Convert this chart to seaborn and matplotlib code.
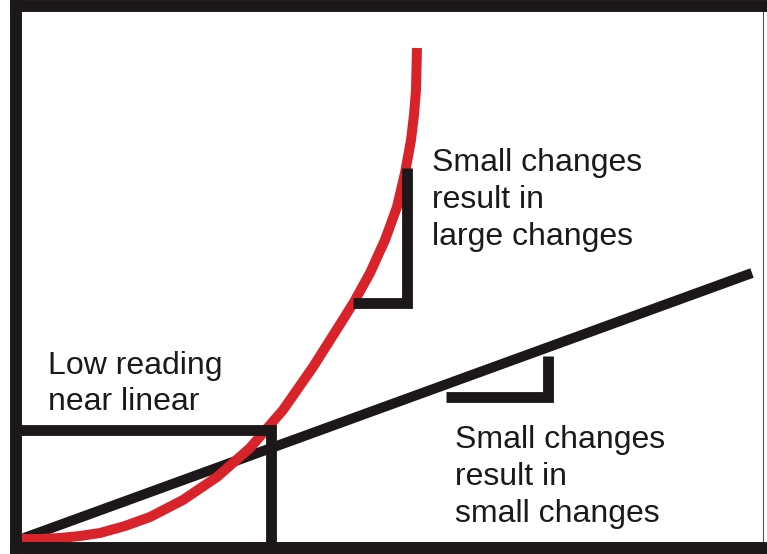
import numpy as np
import pandas as pd
import seaborn as sns
import matplotlib.pyplot as plt

# curve (reading vs output, arbitrary units)
red_x = [6, 24, 44, 64, 84, 109, 134, 167, 201, 234, 267, 297, 328, 338, 354,
         369, 381, 389, 395, 398, 400, 401]
red_y = [9, 9, 10, 12, 15, 22, 31, 48, 71, 100, 138, 181, 230, 246, 275,
         308, 341, 375, 408, 433, 458, 500]

# near-linear response
lin_x = [8, 736]
lin_y = [10, 275]

# slope markers and the "low reading" box
large_step_x = [337, 391, 391]
large_step_y = [245, 245, 380]
small_step_x = [430, 532, 532]
small_step_y = [151, 151, 192]
box_x = [0, 255, 255]
box_y = [118, 118, 0]

labels = {
    'low': 'Low reading\nnear linear',
    'large': 'Small changes\nresult in\nlarge changes',
    'small': 'Small changes\nresult in\nsmall changes',
}

sns.set_theme(style='white')
plt.rcParams['font.family'] = ['Liberation Sans', 'DejaVu Sans']

ink = '#1c1819'
red = '#d9232a'

fig = plt.figure(figsize=(7.67, 5.54), dpi=100)
ax = fig.add_axes([16 / 767, 6 / 554, 747 / 767, 542 / 554])
ax.set_xlim(0, 747)
ax.set_ylim(0, 542)
ax.set_xticks([])
ax.set_yticks([])

# frame
for side in ['left', 'top', 'bottom']:
    ax.spines[side].set_linewidth(8.6)
    ax.spines[side].set_color(ink)
    ax.spines[side].set_capstyle('projecting')
ax.spines['right'].set_linewidth(0.8)
ax.spines['right'].set_color('#555555')

df_red = pd.DataFrame({'x': red_x, 'y': red_y})
df_lin = pd.DataFrame({'x': lin_x, 'y': lin_y})

sns.lineplot(data=df_lin, x='x', y='y', sort=False, color=ink, lw=7.2,
             ax=ax, solid_capstyle='butt')
sns.lineplot(data=df_red, x='x', y='y', sort=False, color=red, lw=7.2,
             ax=ax, solid_capstyle='butt', solid_joinstyle='round')

for xs, ys in [(large_step_x, large_step_y), (small_step_x, small_step_y), (box_x, box_y)]:
    ax.plot(xs, ys, color=ink, lw=7.8, solid_joinstyle='miter', solid_capstyle='butt')

ax.set_xlabel('')
ax.set_ylabel('')

txt = dict(fontsize=23, color='#1a1a1a', ha='left', va='center', linespacing=1.3)
ax.text(32, 164, labels['low'], **txt)
ax.text(416, 348, labels['large'], **txt)
ax.text(439, 71, labels['small'], **txt)

fig.savefig('out.png', dpi=100)
